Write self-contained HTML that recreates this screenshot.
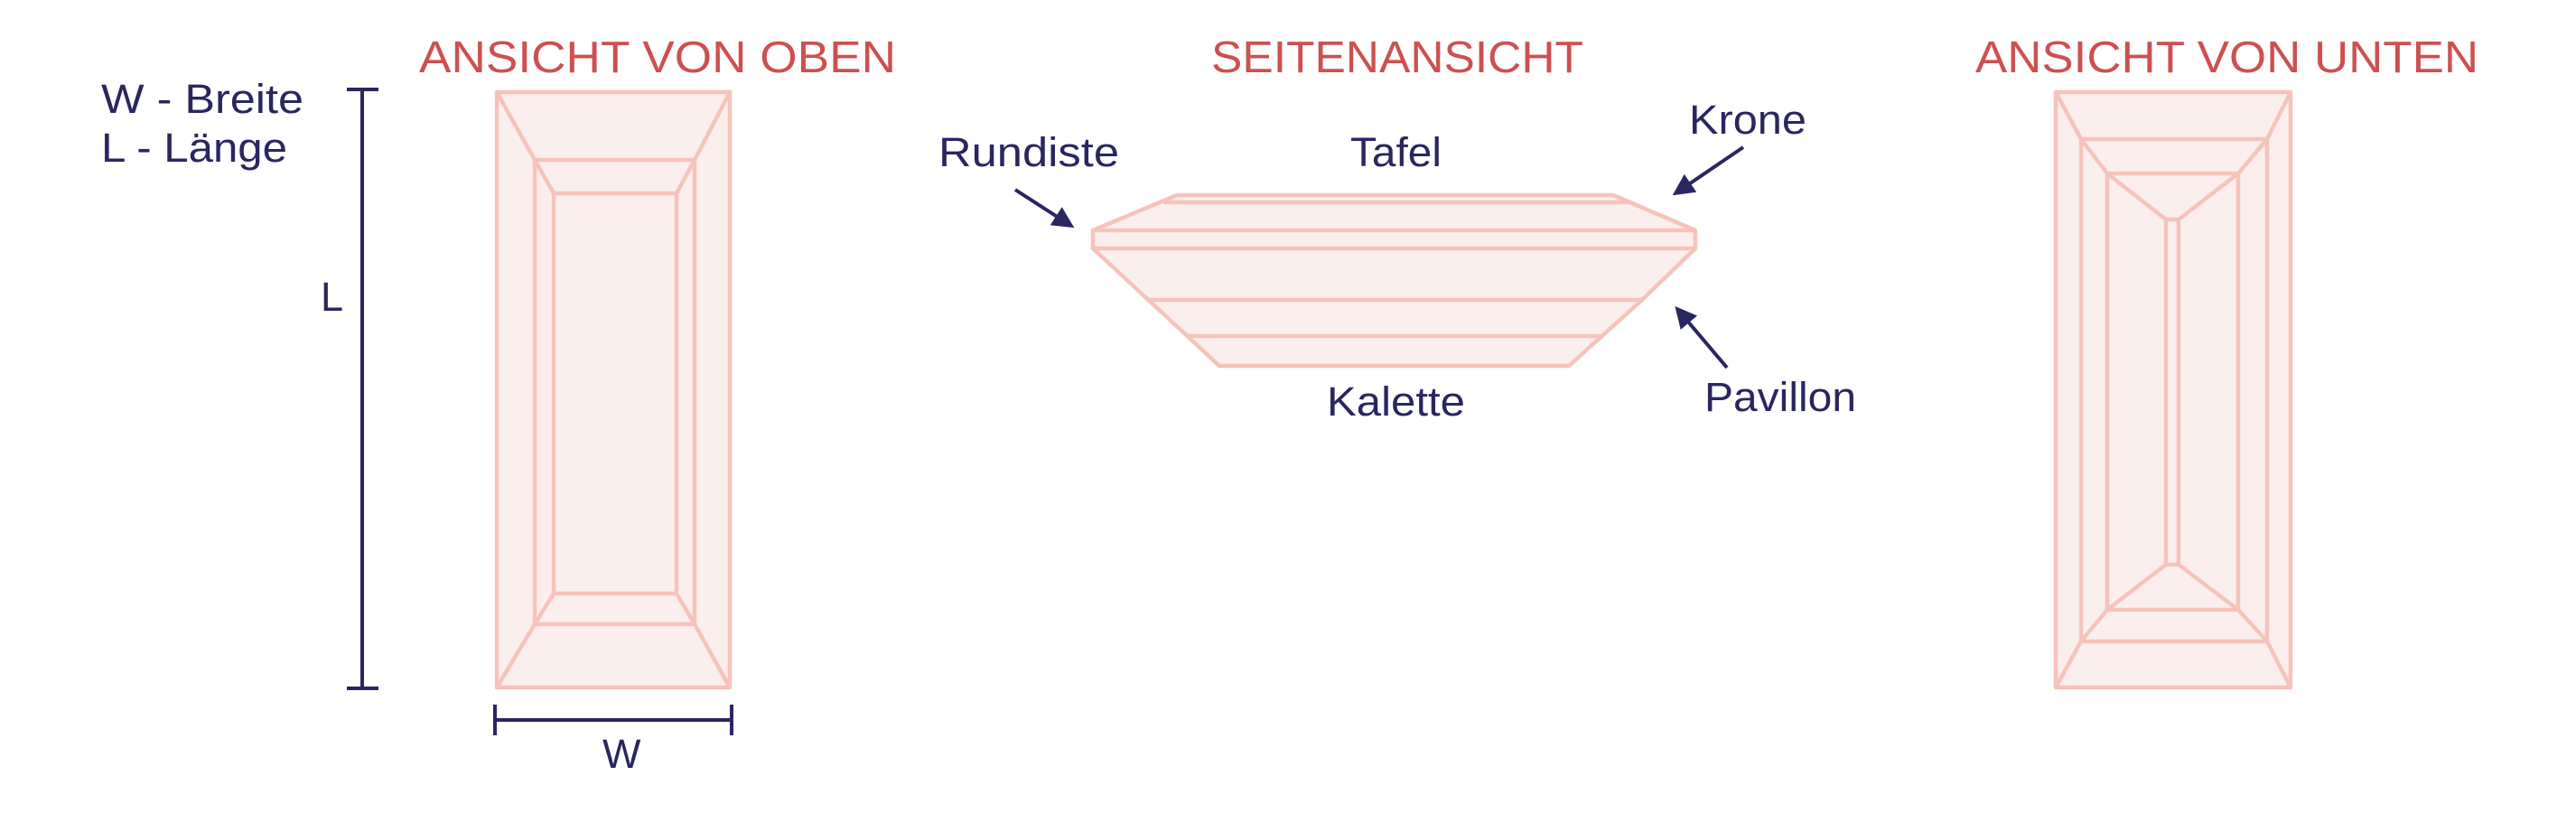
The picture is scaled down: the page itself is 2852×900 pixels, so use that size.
<!DOCTYPE html>
<html><head><meta charset="utf-8"><style>
html,body{margin:0;padding:0;background:#fff;}
svg{display:block}
.t{font-family:"Liberation Sans",sans-serif;fill:#cd5050;font-size:49px}
.n{font-family:"Liberation Sans",sans-serif;fill:#2a2660;font-size:45px}
.p{fill:#fbefed;stroke:#f6c3ba;stroke-width:4.5;stroke-linejoin:round}
.l{fill:none;stroke:#f6c3ba;stroke-width:4.5;stroke-linecap:round}
.k{stroke:#2a2660;stroke-width:4;fill:none}
</style></head><body>
<svg width="2852" height="900" viewBox="0 0 2852 900">
<defs><marker id="a" markerWidth="6" markerHeight="6" refX="5" refY="3" orient="auto" markerUnits="strokeWidth"><path d="M0,0 L6,3 L0,6 z" fill="#2a2660"/></marker></defs>
<!-- titles -->
<text class="t" x="464" y="80" textLength="528" lengthAdjust="spacingAndGlyphs">ANSICHT VON OBEN</text>
<text class="t" x="1341" y="80" textLength="412" lengthAdjust="spacingAndGlyphs">SEITENANSICHT</text>
<text class="t" x="2187" y="80" textLength="557" lengthAdjust="spacingAndGlyphs">ANSICHT VON UNTEN</text>
<!-- legend -->
<text class="n" x="112" y="125" textLength="224" lengthAdjust="spacingAndGlyphs">W - Breite</text>
<text class="n" x="112" y="179" textLength="206" lengthAdjust="spacingAndGlyphs">L - Länge</text>
<!-- L dimension -->
<line class="k" x1="401" y1="99" x2="401" y2="762"/>
<line class="k" x1="384" y1="99" x2="419" y2="99"/>
<line class="k" x1="384" y1="762" x2="419" y2="762"/>
<text class="n" x="355" y="344">L</text>
<!-- W dimension -->
<line class="k" x1="548" y1="797" x2="810" y2="797"/>
<line class="k" x1="548" y1="780" x2="548" y2="814"/>
<line class="k" x1="810" y1="780" x2="810" y2="814"/>
<text class="n" x="667" y="850">W</text>
<!-- top view -->
<rect class="p" x="550" y="102" width="258" height="659"/>
<rect class="l" x="592" y="177" width="177" height="514"/>
<rect class="l" x="613" y="214" width="136" height="443"/>
<path class="l" d="M550,102 L592,177 M808,102 L769,177 M550,761 L592,691 M808,761 L769,691 M592,177 L613,214 M769,177 L749,214 M592,691 L613,657 M769,691 L749,657"/>
<!-- side view -->
<path class="p" d="M1303,216 L1786,216 L1877,255 L1877,275 L1818,332 L1737,405 L1350,405 L1210,275 L1210,255 Z"/>
<path class="l" d="M1290,224 L1804,224 M1210,255 L1877,255 M1210,275 L1877,275 M1274,332 L1818,332 M1316,372 L1771,372"/>
<!-- labels side -->
<text class="n" x="1039" y="184" textLength="200" lengthAdjust="spacingAndGlyphs">Rundiste</text>
<text class="n" x="1495" y="184" textLength="101" lengthAdjust="spacingAndGlyphs">Tafel</text>
<text class="n" x="1870" y="148" textLength="130" lengthAdjust="spacingAndGlyphs">Krone</text>
<text class="n" x="1469" y="460" textLength="153" lengthAdjust="spacingAndGlyphs">Kalette</text>
<text class="n" x="1887" y="455" textLength="168" lengthAdjust="spacingAndGlyphs">Pavillon</text>
<line class="k" x1="1124" y1="210" x2="1186" y2="250" marker-end="url(#a)"/>
<line class="k" x1="1930" y1="163" x2="1855" y2="214" marker-end="url(#a)"/>
<line class="k" x1="1912" y1="407" x2="1857" y2="342" marker-end="url(#a)"/>
<!-- bottom view -->
<rect class="p" x="2276" y="102" width="260" height="659"/>
<rect class="l" x="2304" y="154" width="206" height="556"/>
<rect class="l" x="2333" y="192" width="145" height="483"/>
<rect class="l" x="2398" y="243" width="14" height="382"/>
<path class="l" d="M2276,102 L2304,154 M2536,102 L2510,154 M2276,761 L2304,710 M2536,761 L2510,710 M2304,154 L2333,192 M2510,154 L2478,192 M2304,710 L2333,675 M2510,710 L2478,675 M2333,192 L2398,243 M2478,192 L2412,243 M2333,675 L2398,625 M2478,675 L2412,625"/>
</svg>
</body></html>
